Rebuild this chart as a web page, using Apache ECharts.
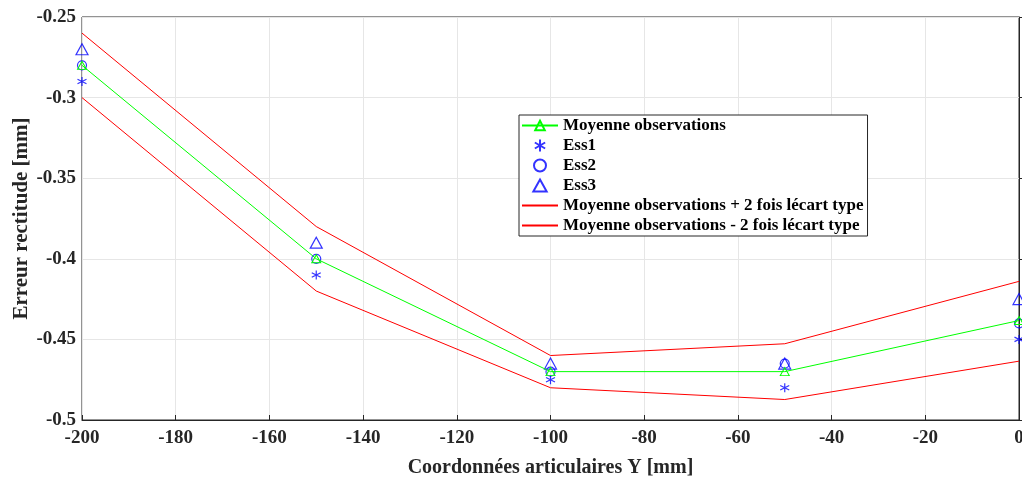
<!DOCTYPE html>
<html lang="fr" style="height: 100%">
<head>
  <meta charset="UTF-8">
  <title>Erreur rectitude</title>
  <script src="https://cdn.jsdelivr.net/npm/echarts@6/dist/echarts.min.js"></script>
</head>
<body style="height: 100%; margin: 0; background: #fff">
  <div id="container" style="width: 1022px; height: 480px"></div>
  <script>
    // positions Y [mm]
    var positions = [-200, -150, -100, -50, 0];
    var moyenne = [-0.28, -0.40, -0.47, -0.47, -0.4383];
    var ess1 = [-0.29, -0.41, -0.475, -0.48, -0.45];
    var ess2 = [-0.28, -0.40, -0.47, -0.465, -0.44];
    var ess3 = [-0.27, -0.39, -0.465, -0.465, -0.425];
    var bornePlus = [-0.26, -0.38, -0.46, -0.4527, -0.414];
    var borneMoins = [-0.30, -0.42, -0.48, -0.4873, -0.4635];

    function pairs(ys) {
      return positions.map(function (x, i) { return [x, ys[i]]; });
    }

    var font = '"Liberation Serif", "Times New Roman", serif';
    var asterisk = 'path://M5,0L5,10M0.7,2.5L9.3,7.5M0.7,7.5L9.3,2.5';
    var triangle = 'path://M5,0L10,9L0,9Z';

    var chart = echarts.init(document.getElementById('container'));

    var option = {
      backgroundColor: '#fff',
      animation: false,
      textStyle: { fontFamily: font },
      grid: {
        left: 82, right: 3, top: 17, bottom: 60,
        outerBoundsMode: 'none',
        show: true, borderColor: '#262626', borderWidth: 1
      },
      legend: {
        orient: 'vertical',
        left: 519, top: 115,
        backgroundColor: '#fff',
        borderColor: '#262626', borderWidth: 1,
        padding: [2, 4, 2, 2],
        itemWidth: 36, itemHeight: 12, itemGap: 3,
        textStyle: { fontFamily: font, fontWeight: 'bold', fontSize: 17, color: '#000' },
        data: [
          'Moyenne observations', 'Ess1', 'Ess2', 'Ess3',
          { name: 'Moyenne observations + 2 fois lécart type', itemStyle: { opacity: 0 } },
          { name: 'Moyenne observations - 2 fois lécart type', itemStyle: { opacity: 0 } }
        ]
      },
      xAxis: {
        type: 'value',
        min: -200, max: 0, interval: 20,
        name: 'Coordonnées articulaires Y [mm]',
        nameLocation: 'middle', nameGap: 38, nameMoveOverlap: false,
        nameTextStyle: { fontFamily: font, fontWeight: 'bold', fontSize: 20, color: '#262626' },
        axisLine: { show: true, lineStyle: { color: '#262626' } },
        axisTick: { show: true, inside: true, length: 5, lineStyle: { color: '#262626' } },
        axisLabel: { fontFamily: font, fontWeight: 'bold', fontSize: 19, color: '#262626', margin: 9 },
        splitLine: { show: true, lineStyle: { color: '#e6e6e6' } }
      },
      yAxis: {
        type: 'value',
        min: -0.5, max: -0.25, interval: 0.05,
        name: 'Erreur rectitude [mm]',
        nameLocation: 'middle', nameGap: 50, nameMoveOverlap: false,
        nameTextStyle: { fontFamily: font, fontWeight: 'bold', fontSize: 21, color: '#262626' },
        axisLine: { show: true, lineStyle: { color: '#262626' } },
        axisTick: { show: true, inside: true, length: 5, lineStyle: { color: '#262626' } },
        axisLabel: {
          fontFamily: font, fontWeight: 'bold', fontSize: 19, color: '#262626', margin: 6,
          formatter: function (v) { return String(parseFloat(v.toFixed(2))); }
        },
        splitLine: { show: true, lineStyle: { color: '#e6e6e6' } }
      },
      series: [
        {
          name: 'Moyenne observations',
          type: 'line',
          data: pairs(moyenne),
          symbol: triangle, symbolSize: [9, 8],
          lineStyle: { color: '#00ff00', width: 1 },
          itemStyle: { color: 'none', borderColor: '#00ff00', borderWidth: 1 },
          z: 4
        },
        {
          name: 'Ess1',
          type: 'scatter',
          data: pairs(ess1),
          symbol: asterisk, symbolSize: 9,
          itemStyle: { color: 'none', borderColor: '#0000ff', borderWidth: 1.2 },
          z: 3
        },
        {
          name: 'Ess2',
          type: 'scatter',
          data: pairs(ess2),
          symbol: 'circle', symbolSize: 9,
          itemStyle: { color: 'none', borderColor: '#0000ff', borderWidth: 1.2 },
          z: 3
        },
        {
          name: 'Ess3',
          type: 'scatter',
          data: pairs(ess3),
          symbol: triangle, symbolSize: [12, 11],
          itemStyle: { color: 'none', borderColor: '#0000ff', borderWidth: 1.2 },
          z: 3
        },
        {
          name: 'Moyenne observations + 2 fois lécart type',
          type: 'line',
          data: pairs(bornePlus),
          symbol: 'none',
          lineStyle: { color: '#ff0000', width: 1 },
          itemStyle: { color: '#ff0000' }
        },
        {
          name: 'Moyenne observations - 2 fois lécart type',
          type: 'line',
          data: pairs(borneMoins),
          symbol: 'none',
          lineStyle: { color: '#ff0000', width: 1 },
          itemStyle: { color: '#ff0000' }
        }
      ]
    };
    chart.setOption(option);
  </script>
</body>
</html>
